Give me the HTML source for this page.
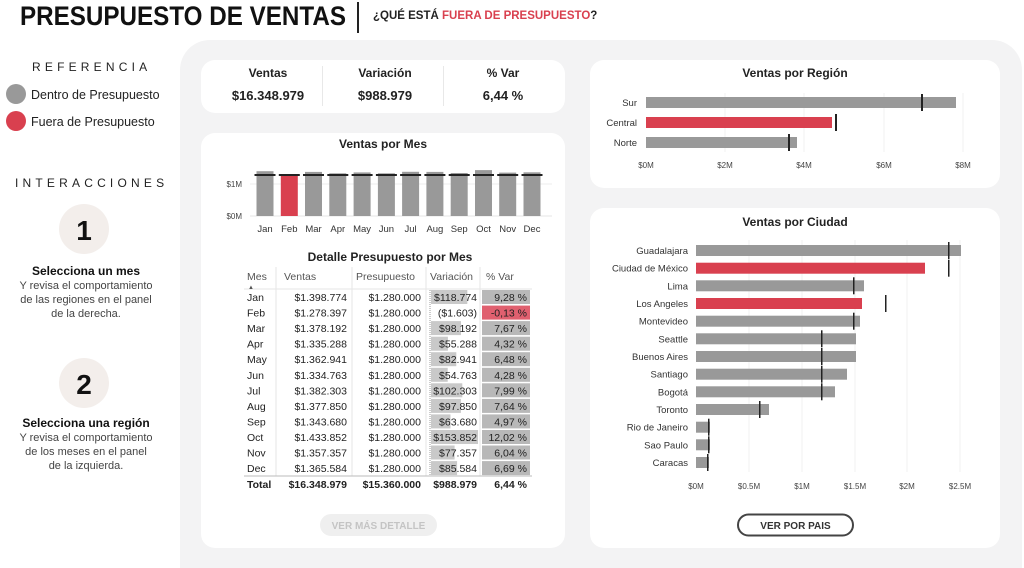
<!DOCTYPE html>
<html><head><meta charset="utf-8"><style>
html,body{margin:0;padding:0;background:#fff;width:1024px;height:568px;overflow:hidden}
svg{display:block;font-family:"Liberation Sans",sans-serif;overflow:hidden}
</style></head><body>
<svg width="1024" height="568" viewBox="0 0 1024 568" xmlns="http://www.w3.org/2000/svg">
<!-- header -->
<text x="20" y="25" font-size="27" font-weight="bold" fill="#111" textLength="326" lengthAdjust="spacingAndGlyphs">PRESUPUESTO DE VENTAS</text>
<rect x="357" y="2" width="2" height="31" fill="#222"/>
<text x="373" y="19" font-size="11.5" font-weight="bold" fill="#222">¿QUÉ ESTÁ <tspan fill="#d9404f">FUERA DE PRESUPUESTO</tspan>?</text>

<!-- left -->
<text x="32" y="71" font-size="12" fill="#222" letter-spacing="4.2">REFERENCIA</text>
<circle cx="16" cy="94" r="10" fill="#999"/>
<text x="31" y="99" font-size="12.5" fill="#222">Dentro de Presupuesto</text>
<circle cx="16" cy="121" r="10" fill="#d9404f"/>
<text x="31" y="126" font-size="12.5" fill="#222">Fuera de Presupuesto</text>
<text x="15" y="187" font-size="12" fill="#222" letter-spacing="4.2">INTERACCIONES</text>
<circle cx="84" cy="229" r="25" fill="#f3eeeb"/>
<text x="84" y="240" font-size="28" font-weight="bold" fill="#111" text-anchor="middle">1</text>
<g text-anchor="middle" fill="#444" font-size="11">
<text x="86" y="275" font-size="12" font-weight="bold" fill="#111">Selecciona un mes</text>
<text x="86" y="289">Y revisa el comportamiento</text>
<text x="86" y="303">de las regiones en el panel</text>
<text x="86" y="317">de la derecha.</text>
</g>
<circle cx="84" cy="383" r="25" fill="#f3eeeb"/>
<text x="84" y="394" font-size="28" font-weight="bold" fill="#111" text-anchor="middle">2</text>
<g text-anchor="middle" fill="#444" font-size="11">
<text x="86" y="427" font-size="12" font-weight="bold" fill="#111">Selecciona una región</text>
<text x="86" y="441">Y revisa el comportamiento</text>
<text x="86" y="455">de los meses en el panel</text>
<text x="86" y="469">de la izquierda.</text>
</g>

<!-- background panel -->
<rect x="180" y="40" width="842" height="528" rx="30" fill="#f3f3f4"/>
<rect x="180" y="540" width="842" height="28" fill="#f3f3f4"/>

<!-- KPI card -->
<rect x="201" y="60" width="364" height="53" rx="14" fill="#fff"/>
<rect x="322" y="66" width="1" height="40" fill="#e8e8e8"/>
<rect x="443" y="66" width="1" height="40" fill="#e8e8e8"/>
<g text-anchor="middle" font-weight="bold" fill="#222">
<text x="268" y="77" font-size="12">Ventas</text>
<text x="268" y="100" font-size="13">$16.348.979</text>
<text x="385" y="77" font-size="12">Variación</text>
<text x="385" y="100" font-size="13">$988.979</text>
<text x="503" y="77" font-size="12">% Var</text>
<text x="503" y="100" font-size="13">6,44 %</text>
</g>

<!-- Month card -->
<rect x="201" y="133" width="364" height="415" rx="14" fill="#fff"/>
<text x="383" y="148" font-size="12" font-weight="bold" fill="#222" text-anchor="middle">Ventas por Mes</text>
<line x1="250" y1="184" x2="552" y2="184" stroke="#eee"/>
<line x1="250" y1="216" x2="552" y2="216" stroke="#e4e4e4"/>
<text x="242" y="187" font-size="8" fill="#444" text-anchor="end">$1M</text>
<text x="242" y="219" font-size="8" fill="#444" text-anchor="end">$0M</text>
<g fill="#999">
<rect x="256.5" y="171.2" width="17" height="44.8"/>
<rect x="280.8" y="175.1" width="17" height="40.9" fill="#d9404f"/>
<rect x="305.0" y="171.9" width="17" height="44.1"/>
<rect x="329.3" y="173.3" width="17" height="42.7"/>
<rect x="353.6" y="172.4" width="17" height="43.6"/>
<rect x="377.9" y="173.3" width="17" height="42.7"/>
<rect x="402.1" y="171.8" width="17" height="44.2"/>
<rect x="426.4" y="171.9" width="17" height="44.1"/>
<rect x="450.7" y="173.0" width="17" height="43.0"/>
<rect x="475.0" y="170.1" width="17" height="45.9"/>
<rect x="499.2" y="172.6" width="17" height="43.4"/>
<rect x="523.5" y="172.3" width="17" height="43.7"/>
</g>
<g fill="#222">
<rect x="254.5" y="174" width="21" height="2"/><rect x="278.8" y="174" width="21" height="2"/>
<rect x="303" y="174" width="21" height="2"/><rect x="327.3" y="174" width="21" height="2"/>
<rect x="351.6" y="174" width="21" height="2"/><rect x="375.9" y="174" width="21" height="2"/>
<rect x="400.1" y="174" width="21" height="2"/><rect x="424.4" y="174" width="21" height="2"/>
<rect x="448.7" y="174" width="21" height="2"/><rect x="473" y="174" width="21" height="2"/>
<rect x="497.2" y="174" width="21" height="2"/><rect x="521.5" y="174" width="21" height="2"/>
</g>
<g font-size="9.5" fill="#333" text-anchor="middle">
<text x="265" y="232">Jan</text><text x="289.3" y="232">Feb</text><text x="313.5" y="232">Mar</text>
<text x="337.8" y="232">Apr</text><text x="362.1" y="232">May</text><text x="386.4" y="232">Jun</text>
<text x="410.6" y="232">Jul</text><text x="434.9" y="232">Aug</text><text x="459.2" y="232">Sep</text>
<text x="483.5" y="232">Oct</text><text x="507.7" y="232">Nov</text><text x="532" y="232">Dec</text>
</g>

<!-- table -->
<text x="390" y="261" font-size="12" font-weight="bold" fill="#222" text-anchor="middle">Detalle Presupuesto por Mes</text>
<g stroke="#e6e6e6">
<line x1="276" y1="267" x2="276" y2="476"/><line x1="352" y1="267" x2="352" y2="476"/>
<line x1="426" y1="267" x2="426" y2="476"/><line x1="480" y1="267" x2="480" y2="476"/>
<line x1="244" y1="289" x2="532" y2="289"/>
<line x1="244" y1="476" x2="532" y2="476" stroke="#bbb"/>
</g>
<g font-size="10.5" fill="#555">
<text x="247" y="280">Mes</text><text x="284" y="280">Ventas</text><text x="356" y="280">Presupuesto</text>
<text x="430" y="280">Variación</text><text x="486" y="280">% Var</text>
</g>
<text x="248" y="289" font-size="6" fill="#555">▲</text>
<line x1="430" y1="290" x2="430" y2="475" stroke="#999" stroke-dasharray="1,1"/>
<g fill="#c9c9c9">
<rect x="431" y="290" width="36.3" height="14"/>
<rect x="431" y="321.1" width="30" height="14"/>
<rect x="431" y="336.7" width="16.9" height="14"/>
<rect x="431" y="352.2" width="25.3" height="14"/>
<rect x="431" y="367.8" width="16.7" height="14"/>
<rect x="431" y="383.3" width="31.3" height="14"/>
<rect x="431" y="398.9" width="29.9" height="14"/>
<rect x="431" y="414.4" width="19.5" height="14"/>
<rect x="431" y="430" width="47" height="14"/>
<rect x="431" y="445.5" width="23.6" height="14"/>
<rect x="431" y="461.1" width="26.1" height="14"/>
</g>
<g fill="#b8b8b8">
<rect x="482" y="290" width="48" height="14"/>
<rect x="482" y="305.6" width="48" height="14" fill="#e0606f"/>
<rect x="482" y="321.1" width="48" height="14"/>
<rect x="482" y="336.7" width="48" height="14"/>
<rect x="482" y="352.2" width="48" height="14"/>
<rect x="482" y="367.8" width="48" height="14"/>
<rect x="482" y="383.3" width="48" height="14"/>
<rect x="482" y="398.9" width="48" height="14"/>
<rect x="482" y="414.4" width="48" height="14"/>
<rect x="482" y="430" width="48" height="14"/>
<rect x="482" y="445.5" width="48" height="14"/>
<rect x="482" y="461.1" width="48" height="14"/>
</g>
<g font-size="10.5" fill="#222">
<g>
<text x="247" y="301">Jan</text><text x="247" y="316.6">Feb</text><text x="247" y="332.1">Mar</text>
<text x="247" y="347.7">Apr</text><text x="247" y="363.2">May</text><text x="247" y="378.8">Jun</text>
<text x="247" y="394.3">Jul</text><text x="247" y="409.9">Aug</text><text x="247" y="425.4">Sep</text>
<text x="247" y="441">Oct</text><text x="247" y="456.5">Nov</text><text x="247" y="472.1">Dec</text>
</g>
<g text-anchor="end">
<text x="347" y="301">$1.398.774</text><text x="347" y="316.6">$1.278.397</text><text x="347" y="332.1">$1.378.192</text>
<text x="347" y="347.7">$1.335.288</text><text x="347" y="363.2">$1.362.941</text><text x="347" y="378.8">$1.334.763</text>
<text x="347" y="394.3">$1.382.303</text><text x="347" y="409.9">$1.377.850</text><text x="347" y="425.4">$1.343.680</text>
<text x="347" y="441">$1.433.852</text><text x="347" y="456.5">$1.357.357</text><text x="347" y="472.1">$1.365.584</text>
</g>
<g text-anchor="end">
<text x="421" y="301">$1.280.000</text><text x="421" y="316.6">$1.280.000</text><text x="421" y="332.1">$1.280.000</text>
<text x="421" y="347.7">$1.280.000</text><text x="421" y="363.2">$1.280.000</text><text x="421" y="378.8">$1.280.000</text>
<text x="421" y="394.3">$1.280.000</text><text x="421" y="409.9">$1.280.000</text><text x="421" y="425.4">$1.280.000</text>
<text x="421" y="441">$1.280.000</text><text x="421" y="456.5">$1.280.000</text><text x="421" y="472.1">$1.280.000</text>
</g>
<g text-anchor="end">
<text x="477" y="301">$118.774</text><text x="477" y="316.6">($1.603)</text><text x="477" y="332.1">$98.192</text>
<text x="477" y="347.7">$55.288</text><text x="477" y="363.2">$82.941</text><text x="477" y="378.8">$54.763</text>
<text x="477" y="394.3">$102.303</text><text x="477" y="409.9">$97.850</text><text x="477" y="425.4">$63.680</text>
<text x="477" y="441">$153.852</text><text x="477" y="456.5">$77.357</text><text x="477" y="472.1">$85.584</text>
</g>
<g text-anchor="end">
<text x="527" y="301">9,28 %</text><text x="527" y="316.6">-0,13 %</text><text x="527" y="332.1">7,67 %</text>
<text x="527" y="347.7">4,32 %</text><text x="527" y="363.2">6,48 %</text><text x="527" y="378.8">4,28 %</text>
<text x="527" y="394.3">7,99 %</text><text x="527" y="409.9">7,64 %</text><text x="527" y="425.4">4,97 %</text>
<text x="527" y="441">12,02 %</text><text x="527" y="456.5">6,04 %</text><text x="527" y="472.1">6,69 %</text>
</g>
<g font-weight="bold" text-anchor="end">
<text x="247" y="488" text-anchor="start">Total</text>
<text x="347" y="488">$16.348.979</text><text x="421" y="488">$15.360.000</text>
<text x="477" y="488">$988.979</text><text x="527" y="488">6,44 %</text>
</g>
</g>
<rect x="320" y="514" width="117" height="22" rx="11" fill="#efefef"/>
<text x="378.5" y="529" font-size="10" font-weight="bold" fill="#c4c4c4" text-anchor="middle">VER MÁS DETALLE</text>

<!-- Region card -->
<rect x="590" y="60" width="410" height="128" rx="14" fill="#fff"/>
<text x="795" y="77" font-size="12" font-weight="bold" fill="#222" text-anchor="middle">Ventas por Región</text>
<g stroke="#f0f0f0"><line x1="725" y1="93" x2="725" y2="152"/><line x1="804" y1="93" x2="804" y2="152"/><line x1="884" y1="93" x2="884" y2="152"/><line x1="963" y1="93" x2="963" y2="152"/></g>
<rect x="646" y="97" width="310" height="11" fill="#999"/>
<rect x="646" y="117" width="186" height="11" fill="#d9404f"/>
<rect x="646" y="137" width="151" height="11" fill="#999"/>
<g fill="#222"><rect x="921" y="94" width="2" height="17"/><rect x="835" y="114" width="2" height="17"/><rect x="788" y="134" width="2" height="17"/></g>
<g font-size="9.5" fill="#333" text-anchor="end">
<text x="637" y="106">Sur</text><text x="637" y="126">Central</text><text x="637" y="146">Norte</text>
</g>
<g font-size="8" fill="#444" text-anchor="middle">
<text x="646" y="168">$0M</text><text x="725" y="168">$2M</text><text x="804" y="168">$4M</text><text x="884" y="168">$6M</text><text x="963" y="168">$8M</text>
</g>

<!-- City card -->
<rect x="590" y="208" width="410" height="340" rx="14" fill="#fff"/>
<text x="795" y="226" font-size="12" font-weight="bold" fill="#222" text-anchor="middle">Ventas por Ciudad</text>
<g stroke="#f0f0f0"><line x1="749" y1="240" x2="749" y2="472"/><line x1="802" y1="240" x2="802" y2="472"/><line x1="855" y1="240" x2="855" y2="472"/><line x1="907" y1="240" x2="907" y2="472"/><line x1="960" y1="240" x2="960" y2="472"/></g>
<g fill="#999">
<rect x="696" y="245" width="265" height="11"/>
<rect x="696" y="262.7" width="229" height="11" fill="#d9404f"/>
<rect x="696" y="280.3" width="168" height="11"/>
<rect x="696" y="298" width="166" height="11" fill="#d9404f"/>
<rect x="696" y="315.7" width="164" height="11"/>
<rect x="696" y="333.3" width="160" height="11"/>
<rect x="696" y="351" width="160" height="11"/>
<rect x="696" y="368.7" width="151" height="11"/>
<rect x="696" y="386.3" width="139" height="11"/>
<rect x="696" y="404" width="73" height="11"/>
<rect x="696" y="421.7" width="14" height="11"/>
<rect x="696" y="439.3" width="14" height="11"/>
<rect x="696" y="457" width="13" height="11"/>
</g>
<g fill="#222">
<rect x="948" y="242" width="1.5" height="17"/>
<rect x="948" y="259.7" width="1.5" height="17"/>
<rect x="853" y="277.3" width="1.5" height="17"/>
<rect x="885" y="295" width="1.5" height="17"/>
<rect x="853" y="312.7" width="1.5" height="17"/>
<rect x="821" y="330.3" width="1.5" height="17"/>
<rect x="821" y="348" width="1.5" height="17"/>
<rect x="821" y="365.7" width="1.5" height="17"/>
<rect x="821" y="383.3" width="1.5" height="17"/>
<rect x="759" y="401" width="1.5" height="17"/>
<rect x="708" y="418.7" width="1.5" height="17"/>
<rect x="708" y="436.3" width="1.5" height="17"/>
<rect x="707" y="454" width="1.5" height="17"/>
</g>
<g font-size="9.5" fill="#333" text-anchor="end">
<text x="688" y="254">Guadalajara</text><text x="688" y="271.7">Ciudad de México</text><text x="688" y="289.3">Lima</text>
<text x="688" y="307">Los Angeles</text><text x="688" y="324.7">Montevideo</text><text x="688" y="342.3">Seattle</text>
<text x="688" y="360">Buenos Aires</text><text x="688" y="377.7">Santiago</text><text x="688" y="395.3">Bogotá</text>
<text x="688" y="413">Toronto</text><text x="688" y="430.7">Rio de Janeiro</text><text x="688" y="448.3">Sao Paulo</text>
<text x="688" y="466">Caracas</text>
</g>
<g font-size="8" fill="#444" text-anchor="middle">
<text x="696" y="489">$0M</text><text x="749" y="489">$0.5M</text><text x="802" y="489">$1M</text><text x="855" y="489">$1.5M</text><text x="907" y="489">$2M</text><text x="960" y="489">$2.5M</text>
</g>
<rect x="738" y="514.5" width="115" height="21" rx="10.5" fill="#fff" stroke="#444" stroke-width="2"/>
<text x="795.5" y="529" font-size="10" font-weight="bold" fill="#333" text-anchor="middle">VER POR PAIS</text>
</svg>
</body></html>
